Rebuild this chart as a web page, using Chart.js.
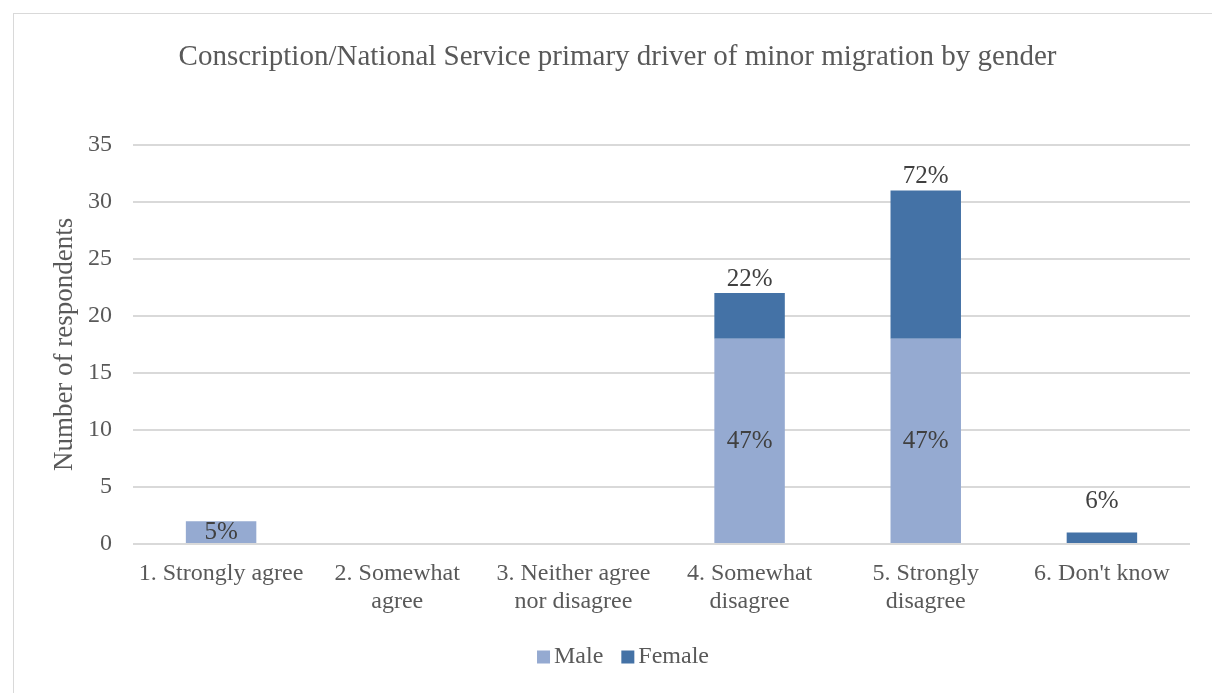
<!DOCTYPE html>
<html><head><meta charset="utf-8">
<script src="https://cdn.jsdelivr.net/npm/chart.js@4"></script>
<style>
html,body{margin:0;padding:0;background:#fff;}
#wrap{position:absolute;left:13px;top:13px;width:1199px;height:680px;border-left:1px solid #d9d9d9;border-top:1px solid #d9d9d9;box-sizing:border-box;}
canvas{display:block;}
</style></head>
<body><div id="wrap"><canvas id="c"></canvas></div>
<script>
const categories = [["1. Strongly agree"],["2. Somewhat","agree"],["3. Neither agree","nor disagree"],["4. Somewhat","disagree"],["5. Strongly","disagree"],["6. Don't know"]];
const maleValues = [2,0,0,18,18,0];
const femaleValues = [0,0,0,4,13,1];
const maleLabels = ["5%","","","47%","47%",""];
const femaleLabels = ["","","","22%","72%","6%"];
const yTicks = [0,5,10,15,20,25,30,35];

const FONT = "'Liberation Serif','Times New Roman',serif";
const labelPlugin = {
  id:'lbl',
  afterDatasetsDraw(chart){
    const ctx = chart.ctx;
    ctx.save();
    ctx.font = "25px " + FONT;
    ctx.fillStyle = "#404040";
    ctx.textAlign = "center";
    ctx.textBaseline = "middle";
    const m0 = chart.getDatasetMeta(0), m1 = chart.getDatasetMeta(1);
    const ys = chart.scales.y;
    maleLabels.forEach((t,i)=>{
      if(!t) return;
      const el = m0.data[i];
      ctx.fillText(t, el.x, (ys.getPixelForValue(0)+ys.getPixelForValue(maleValues[i]))/2);
    });
    femaleLabels.forEach((t,i)=>{
      if(!t) return;
      const el = m1.data[i];
      const segH = ys.getPixelForValue(0) - ys.getPixelForValue(femaleValues[i]);
      const off = segH < 20 ? 31 : 14;
      ctx.fillText(t, el.x, ys.getPixelForValue(maleValues[i]+femaleValues[i]) - off);
    });
    ctx.restore();
  }
};
// Legend drawn with Excel-like tight spacing
const legendPlugin = {
  id:'xlLegend',
  afterDraw(chart){
    const ctx = chart.ctx;
    ctx.save();
    ctx.font = "24px " + FONT;
    ctx.textBaseline = "middle";
    const box = 13, gapBoxText = 4, gapItems = 18;
    const items = chart.data.datasets.map(d=>({text:d.label,color:d.backgroundColor,w:ctx.measureText(d.label).width}));
    const total = items.reduce((s,it)=>s+box+gapBoxText+it.w,0) + gapItems*(items.length-1);
    let x = 610 - total/2 - 1;
    const y = chart.height - 36;
    items.forEach(it=>{
      ctx.fillStyle = it.color;
      ctx.fillRect(x, y - box/2, box, box);
      x += box + gapBoxText;
      ctx.fillStyle = '#595959';
      ctx.fillText(it.text, x, y);
      x += it.w + gapItems;
    });
    ctx.restore();
  }
};

new Chart(document.getElementById('c'),{
  type:'bar',
  data:{labels:categories,datasets:[
    {label:'Male',data:maleValues,backgroundColor:'#95aad1',categoryPercentage:1,barPercentage:0.4},
    {label:'Female',data:femaleValues,backgroundColor:'#4472a6',categoryPercentage:1,barPercentage:0.4}
  ]},
  options:{
    responsive:true,maintainAspectRatio:false,animation:false,
    layout:{padding:{left:9,right:0,top:0,bottom:55}},
    plugins:{
      title:{display:true,text:'Conscription/National Service primary driver of minor migration by gender',
        font:{family:FONT,size:29,weight:'normal',lineHeight:1.2},color:'#595959',padding:{top:26,bottom:70}},
      legend:{display:false},
      tooltip:{enabled:false}
    },
    scales:{
      x:{stacked:true,grid:{display:false},border:{display:false},
        afterFit(s){s.height=94;},
        ticks:{font:{family:FONT,size:24,lineHeight:1.17},color:'#595959',padding:8,maxRotation:0,autoSkip:false}},
      y:{stacked:true,min:0,max:35,
        afterBuildTicks(s){s.ticks=yTicks.map(v=>({value:v}));},
        afterFit(s){s.width=110;},
        grid:{color:'#d9d9d9',lineWidth:2,drawTicks:false},border:{display:false},
        ticks:{font:{family:FONT,size:24},color:'#595959',padding:21},
        title:{display:true,text:'Number of respondents',font:{family:FONT,size:27},color:'#595959',padding:{top:26,bottom:0}}},
      yPad:{position:'right',display:true,min:0,max:35,
        afterFit(s){s.width=22;},
        grid:{display:false,drawOnChartArea:false},border:{display:false},
        ticks:{display:false}}
    }
  },
  plugins:[labelPlugin,legendPlugin]
});
</script></body></html>
